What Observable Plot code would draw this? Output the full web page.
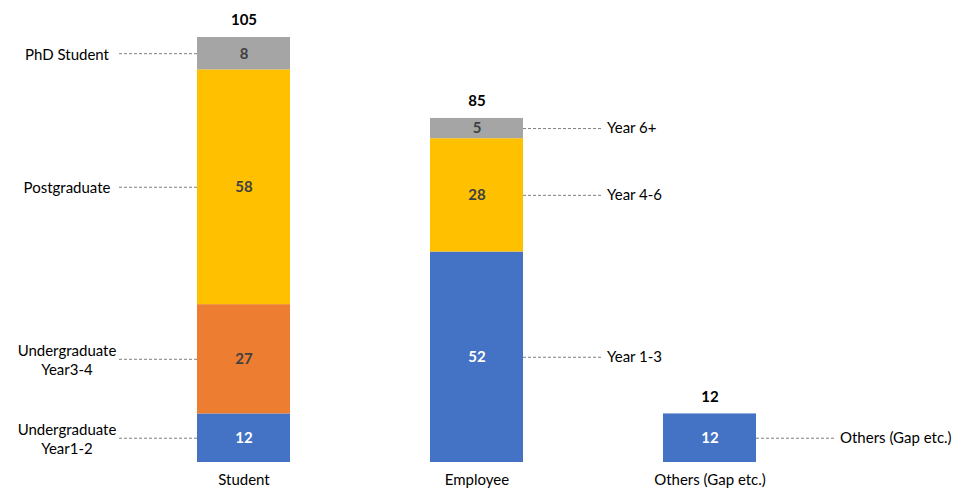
<!DOCTYPE html>
<html>
<head>
<meta charset="utf-8">
<script src="https://cdn.jsdelivr.net/npm/d3@7"></script>
<script src="https://cdn.jsdelivr.net/npm/@observablehq/plot@0.6"></script>
<style>
  html, body { margin: 0; padding: 0; background: #ffffff; }
  #chart { width: 964px; height: 495px; }
</style>
</head>
<body>
<div id="chart"></div>
<script>
const categories = ["Student", "Employee", "Others (Gap etc.)"];
const totals = [105, 85, 12];

const studentGroups = ["Undergraduate\nYear1-2", "Undergraduate\nYear3-4", "Postgraduate", "PhD Student"];
const studentValues = [12, 27, 58, 8];

const employeeGroups = ["Year 1-3", "Year 4-6", "Year 6+"];
const employeeValues = [52, 28, 5];

const othersGroups = ["Others (Gap etc.)"];
const othersValues = [12];

const BLUE = "#4472C4", ORANGE = "#ED7D31", YELLOW = "#FFC000", GRAY = "#A5A5A5";
const groupDomain = [...studentGroups, ...employeeGroups, ...othersGroups.map(g => "o:" + g)];
const groupColors = [BLUE, ORANGE, YELLOW, GRAY, BLUE, YELLOW, GRAY, BLUE];

const studentRows = studentGroups.map((g, i) => ({cat: categories[0], group: g, key: g, value: studentValues[i]}));
const employeeRows = employeeGroups.map((g, i) => ({cat: categories[1], group: g, key: g, value: employeeValues[i]}));
const othersRows = othersGroups.map((g, i) => ({cat: categories[2], group: g, key: "o:" + g, value: othersValues[i]}));
const rows = [...studentRows, ...employeeRows, ...othersRows];
const rightRows = [...employeeRows, ...othersRows];
const totalRows = categories.map((c, i) => ({cat: c, total: totals[i]}));

const colorOf = new Map(groupDomain.map((g, i) => [g, groupColors[i]]));
const isBlue = d => colorOf.get(d.key) === BLUE;

const chart = Plot.plot({
  width: 964,
  height: 495,
  marginTop: 37,
  marginBottom: 33,
  marginLeft: 127,
  marginRight: 137,
  style: {fontFamily: "Lato, 'Open Sans', sans-serif", fontSize: "15px", background: "#ffffff", color: "#000"},
  x: {domain: categories, paddingInner: 0.6, paddingOuter: 0.3, label: null, tickSize: 0, tickPadding: 12},
  y: {domain: [0, 105], axis: null},
  color: {domain: groupDomain, range: groupColors},
  marks: [
    Plot.barY(rows, Plot.stackY({x: "cat", y: "value", fill: "key", order: null})),
    Plot.text(rows, Plot.stackY({x: "cat", y: "value", text: d => isBlue(d) ? String(d.value) : "", order: null, fill: "#ffffff", fontWeight: "bold"})),
    Plot.text(rows, Plot.stackY({x: "cat", y: "value", text: d => isBlue(d) ? "" : String(d.value), order: null, fill: "#404040", fontWeight: "bold"})),
    Plot.tickY(studentRows, Plot.stackY({x: "cat", y: "value", order: null, dx: -93, insetLeft: 15, stroke: "#7f7f7f", strokeWidth: 1, strokeDasharray: "3,2"})),
    Plot.tickY(rightRows, Plot.stackY({x: "cat", y: "value", order: null, dx: 93, insetRight: 15, stroke: "#7f7f7f", strokeWidth: 1, strokeDasharray: "3,2"})),
    Plot.text(studentRows, Plot.stackY({x: "cat", y: "value", order: null, text: "group", dx: -177, textAnchor: "middle", lineHeight: 1.25, fill: "#000"})),
    Plot.text(rightRows, Plot.stackY({x: "cat", y: "value", order: null, text: "group", dx: 130, textAnchor: "start", fill: "#000"})),
    Plot.text(totalRows, {x: "cat", y: "total", text: d => String(d.total), dy: -17, fontWeight: "bold", fill: "#000"})
  ]
});
document.getElementById("chart").appendChild(chart);
</script>
</body>
</html>
